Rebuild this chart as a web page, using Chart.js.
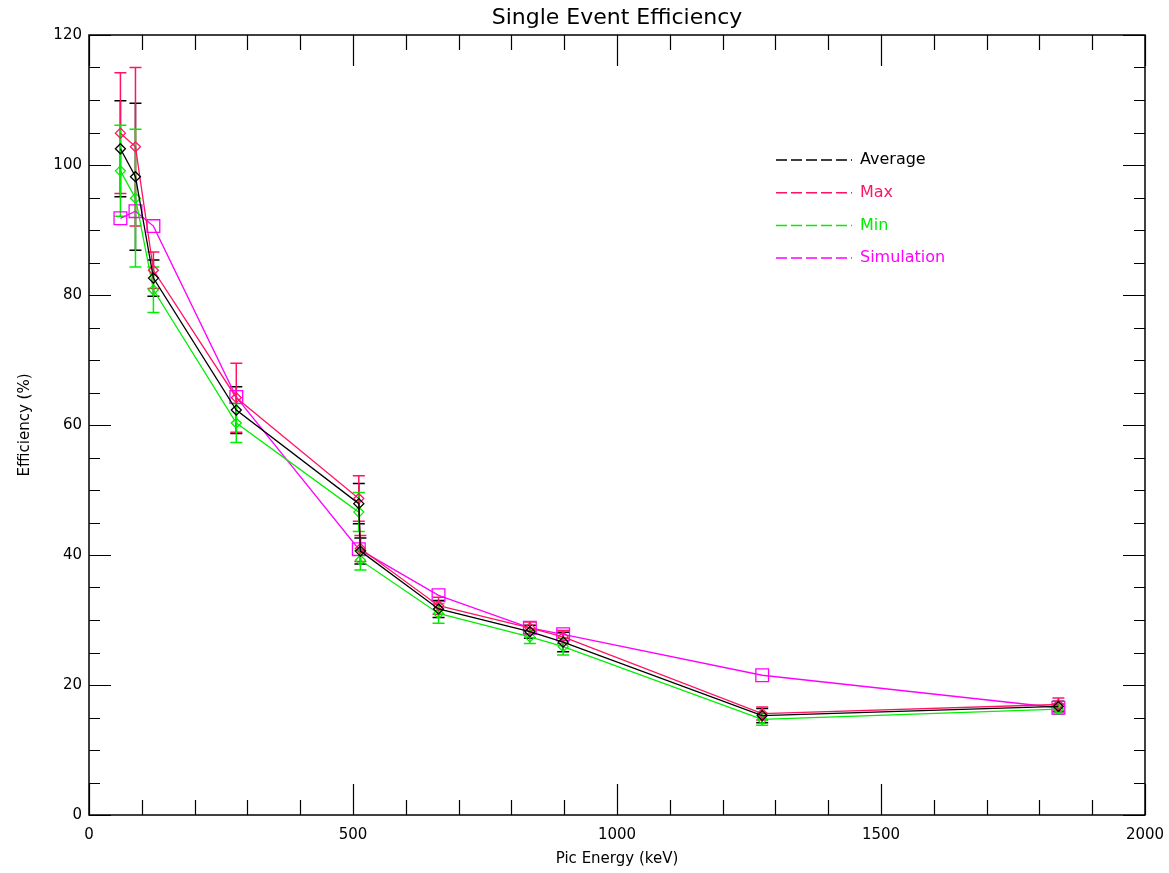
<!DOCTYPE html>
<html>
<head>
<meta charset="utf-8">
<title>Single Event Efficiency</title>
<script src="https://cdn.jsdelivr.net/npm/chart.js@4.4.1/dist/chart.umd.min.js"></script>
<style>
  html, body { margin: 0; padding: 0; background: #fff; }
  canvas { display: block; }
</style>
</head>
<body>
<canvas id="grafico" width="1169" height="873"></canvas>
<script>
// energies of the calibration lines (keV)
const energies = [59.5, 88, 122, 279, 511, 514, 662, 835, 898, 1275, 1836];
const average = [102.5, 98.2, 82.6, 62.3, 47.9, 40.6, 31.7, 28.2, 26.6, 15.3, 16.7];
const averageErr = [7.4, 11.3, 2.8, 3.6, 3.1, 2.0, 1.3, 1.0, 1.5, 1.1, 0.8];
const maxVals = [104.9, 102.8, 83.8, 64.2, 48.7, 41.0, 32.2, 28.8, 27.4, 15.6, 17.0];
const maxErr = [9.3, 12.2, 2.8, 5.3, 3.5, 2.0, 1.3, 0.9, 1.0, 1.0, 1.0];
const minVals = [99.1, 94.9, 80.8, 60.3, 46.6, 39.2, 31.0, 27.4, 25.9, 14.7, 16.3];
const minErr = [7.0, 10.6, 3.5, 3.0, 3.0, 1.5, 1.5, 1.0, 1.3, 0.9, 0.8];
const simEnergies = [59.5, 88, 122, 279, 511, 662, 835, 898, 1275, 1836];
const simulation = [91.8, 92.9, 90.6, 64.3, 40.9, 33.8, 28.8, 27.8, 21.5, 16.5];

const seriesNames = ['Average', 'Max', 'Min', 'Simulation'];
const seriesColors = ['#000000', '#ff1464', '#00ee00', '#ff00ff'];

const xMajor = [0, 500, 1000, 1500, 2000];
const yMajor = [0, 20, 40, 60, 80, 100, 120];

const TITULO = 'Single Event Efficiency';
const FONT = 'DejaVu Sans';

function pontos(xs, ys) {
    return xs.map((x, i) => ({ x: x, y: ys[i] }));
}

// barras de erro desenhadas pelas escalas do Chart.js
const errorBars = {
    id: 'errorBars',
    beforeDatasetsDraw(chart) {
        const { ctx, scales: { x, y } } = chart;
        chart.data.datasets.forEach(ds => {
            if (!ds.errors) return;
            ctx.save();
            ctx.strokeStyle = ds.borderColor;
            ctx.lineWidth = 1.5;
            ds.data.forEach((p, j) => {
                const px = x.getPixelForValue(p.x);
                const top = y.getPixelForValue(p.y + ds.errors[j]);
                const bot = y.getPixelForValue(p.y - ds.errors[j]);
                ctx.beginPath();
                ctx.moveTo(px, top); ctx.lineTo(px, bot);
                ctx.moveTo(px - 6, top); ctx.lineTo(px + 6, top);
                ctx.moveTo(px - 6, bot); ctx.lineTo(px + 6, bot);
                ctx.stroke();
            });
            ctx.restore();
        });
    }
};

// caixa estilo IDL com ticks para dentro nos quatro lados + título centrado na área
const boxTicks = {
    id: 'boxTicks',
    afterDraw(chart) {
        const { ctx, chartArea: a, scales: { x, y } } = chart;
        ctx.save();
        ctx.strokeStyle = '#000';
        ctx.lineWidth = 1.5;
        ctx.strokeRect(a.left, a.top, a.right - a.left, a.bottom - a.top);
        ctx.beginPath();
        for (let v = x.min; v <= x.max; v += 100) {
            const px = Math.round(x.getPixelForValue(v)) + 0.5;
            const len = xMajor.includes(v) ? 31 : 15;
            ctx.moveTo(px, a.bottom); ctx.lineTo(px, a.bottom - len);
            ctx.moveTo(px, a.top); ctx.lineTo(px, a.top + len);
        }
        for (let v = y.min; v <= y.max; v += 5) {
            const py = Math.round(y.getPixelForValue(v)) + 0.5;
            const len = yMajor.includes(v) ? 22 : 11;
            ctx.moveTo(a.left, py); ctx.lineTo(a.left + len, py);
            ctx.moveTo(a.right, py); ctx.lineTo(a.right - len, py);
        }
        ctx.lineWidth = 1.2;
        ctx.stroke();

        ctx.fillStyle = '#000';
        ctx.font = '22px "' + FONT + '"';
        ctx.textAlign = 'center';
        ctx.textBaseline = 'middle';
        ctx.fillText(TITULO, (a.left + a.right) / 2, 18);
        ctx.restore();
    }
};

// legenda dentro da área do gráfico
const legendaInterna = {
    id: 'legendaInterna',
    afterDraw(chart) {
        const { ctx } = chart;
        ctx.save();
        ctx.font = '16px "' + FONT + '"';
        ctx.textBaseline = 'middle';
        chart.data.datasets.forEach((ds, i) => {
            const yy = 160 + i * 32.7;
            ctx.strokeStyle = ds.borderColor;
            ctx.lineWidth = 1.5;
            ctx.setLineDash([11, 4]);
            ctx.beginPath();
            ctx.moveTo(776, yy); ctx.lineTo(852, yy);
            ctx.stroke();
            ctx.fillStyle = ds.borderColor;
            ctx.fillText(ds.label, 860, yy);
        });
        ctx.restore();
    }
};

function serie(idx, data, errors, style, radius) {
    return {
        label: seriesNames[idx],
        data: data,
        errors: errors,
        showLine: true,
        borderColor: seriesColors[idx],
        backgroundColor: 'rgba(0,0,0,0)',
        borderWidth: 1.3,
        pointStyle: style,
        pointRadius: radius,
        pointBorderWidth: 1.3,
        pointBackgroundColor: 'rgba(0,0,0,0)',
        pointBorderColor: seriesColors[idx]
    };
}

const ctx = document.getElementById('grafico').getContext('2d');

new Chart(ctx, {
    type: 'scatter',
    data: {
        datasets: [
            serie(0, pontos(energies, average), averageErr, 'rectRot', 5),
            serie(1, pontos(energies, maxVals), maxErr, 'rectRot', 5),
            serie(2, pontos(energies, minVals), minErr, 'rectRot', 5),
            serie(3, pontos(simEnergies, simulation), null, 'rect', 9)
        ]
    },
    options: {
        responsive: false,
        animation: false,
        layout: { padding: { left: 0, right: 24, top: 35, bottom: 0 } },
        plugins: {
            legend: { display: false },
            tooltip: { enabled: false },
            title: { display: false }
        },
        scales: {
            x: {
                type: 'linear',
                min: 0,
                max: 2000,
                ticks: { stepSize: 500, color: '#000', padding: 11, maxRotation: 0,
                         font: { family: FONT, size: 15 },
                         callback: v => String(v) },
                grid: { display: false, drawTicks: false },
                border: { display: false },
                title: { display: true, text: 'Pic Energy (keV)', color: '#000',
                         font: { family: FONT, size: 15 }, padding: { top: 0, bottom: 5 } },
                afterFit(s) { s.height = 58; s.paddingLeft = 0; s.paddingRight = 0; }
            },
            y: {
                type: 'linear',
                min: 0,
                max: 120,
                ticks: { stepSize: 20, color: '#000', padding: 7,
                         font: { family: FONT, size: 15 },
                         callback: v => String(v) },
                grid: { display: false, drawTicks: false },
                border: { display: false },
                title: { display: true, text: 'Efficiency (%)', color: '#000',
                         font: { family: FONT, size: 15 }, padding: { top: 16, bottom: 0 } },
                afterFit(s) { s.width = 89; s.paddingTop = 0; s.paddingBottom = 0; }
            }
        }
    },
    plugins: [errorBars, boxTicks, legendaInterna]
});
</script>
</body>
</html>
